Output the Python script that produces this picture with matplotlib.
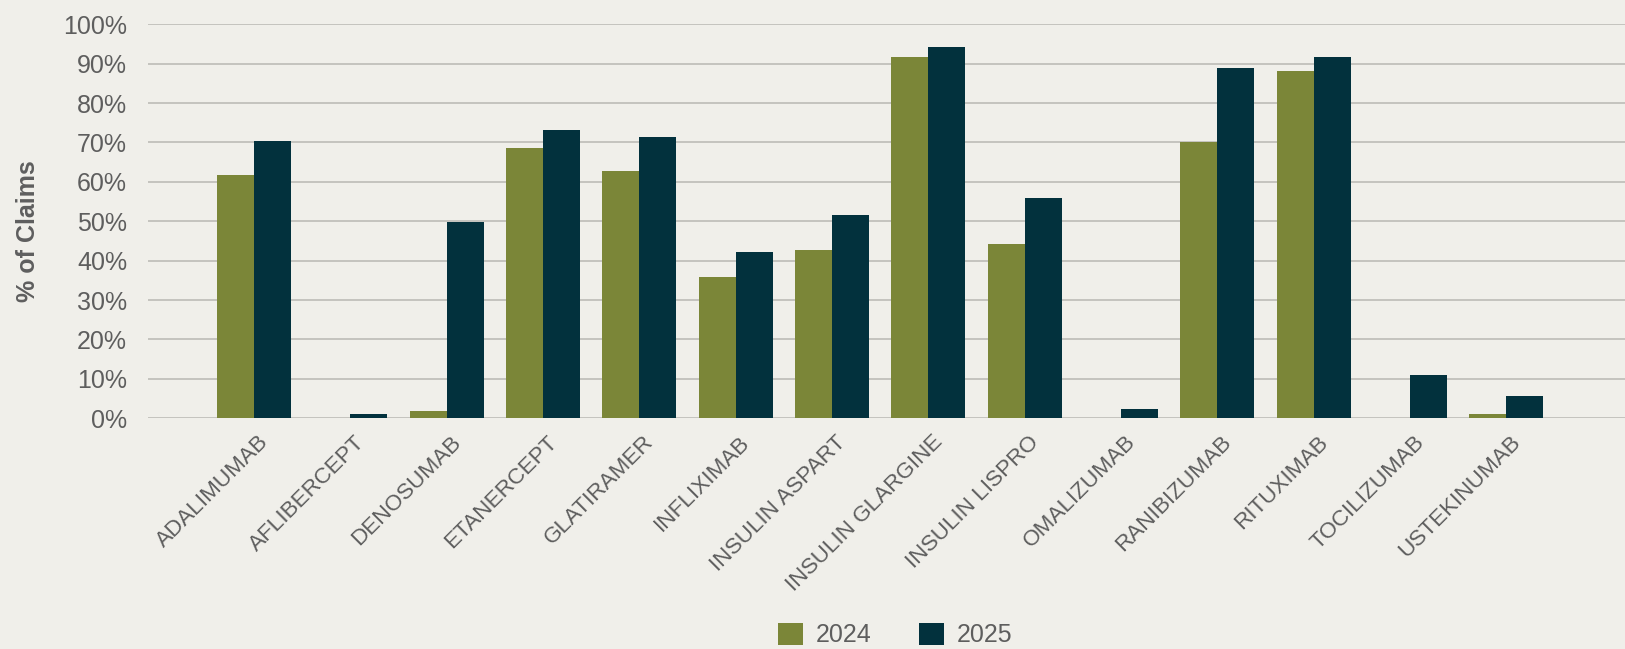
import matplotlib
matplotlib.use('Agg')
import matplotlib.pyplot as plt
import matplotlib.transforms as mtransforms
import numpy as np

drugs = ['ADALIMUMAB', 'AFLIBERCEPT', 'DENOSUMAB', 'ETANERCEPT', 'GLATIRAMER',
         'INFLIXIMAB', 'INSULIN ASPART', 'INSULIN GLARGINE', 'INSULIN LISPRO',
         'OMALIZUMAB', 'RANIBIZUMAB', 'RITUXIMAB', 'TOCILIZUMAB', 'USTEKINUMAB']
y2024 = [61.8, 0.0, 1.9, 68.7, 62.8, 35.9, 42.8, 91.8, 44.3, 0.0, 70.0, 88.2, 0.0, 1.1]
y2025 = [70.4, 1.1, 49.8, 73.2, 71.4, 42.3, 51.6, 94.3, 55.9, 2.4, 88.9, 91.7, 11.0, 5.7]
yticks = [0, 10, 20, 30, 40, 50, 60, 70, 80, 90, 100]

bg = '#f0efea'
green = '#7b8638'
navy = '#02313d'
txt = '#5e5e5e'
grid = '#c4c3be'

plt.rcParams['font.family'] = ['Liberation Sans', 'DejaVu Sans']

fig = plt.figure(figsize=(16.25, 6.49), dpi=100, facecolor=bg)
ax = fig.add_axes([148/1625, 1-418.3/649, 1-148/1625, (418.3-24.3)/649])
ax.set_facecolor(bg)

x = np.arange(len(drugs))
w = 0.384
ax.bar(x - w/2, y2024, w, color=green, label='2024', zorder=3)
ax.bar(x + w/2, y2025, w, color=navy, label='2025', zorder=3)

ax.set_ylim(0, 100)
ax.set_xlim(-1.10, 14.23)
ax.set_yticks(yticks)
ax.set_yticklabels([f'{t}%' for t in yticks], fontsize=18, color=txt)
ax.yaxis.grid(True, color=grid, linewidth=1.4, zorder=0)
ax.tick_params(axis='y', length=0, pad=15)
ax.tick_params(axis='x', length=0, pad=15)
for s in ax.spines.values():
    s.set_visible(False)

# rotated drug names, nudged right so the last letter sits by the tick
ax.set_xticks(x)
ax.set_xticklabels(drugs, rotation=45, ha='right', va='center',
                   rotation_mode='anchor', fontsize=16.2, color=txt)
shift = mtransforms.ScaledTranslation(11/100, 0, fig.dpi_scale_trans)
for lab in ax.get_xticklabels():
    lab.set_transform(lab.get_transform() + shift)

ax.set_ylabel('% of Claims', fontsize=18, fontweight='bold', color=txt)
ax.yaxis.label.set_va('center')
ax.yaxis.set_label_coords(28/1625, 1 - 231/649, transform=fig.transFigure)

fig.legend(loc='center', bbox_to_anchor=(895/1625, 1-635/649), ncol=2, frameon=False,
           fontsize=18, labelcolor=txt, handlelength=1.0, handleheight=1.0,
           columnspacing=1.9, handletextpad=0.5)

fig.savefig('out.png', dpi=100, facecolor=bg)
